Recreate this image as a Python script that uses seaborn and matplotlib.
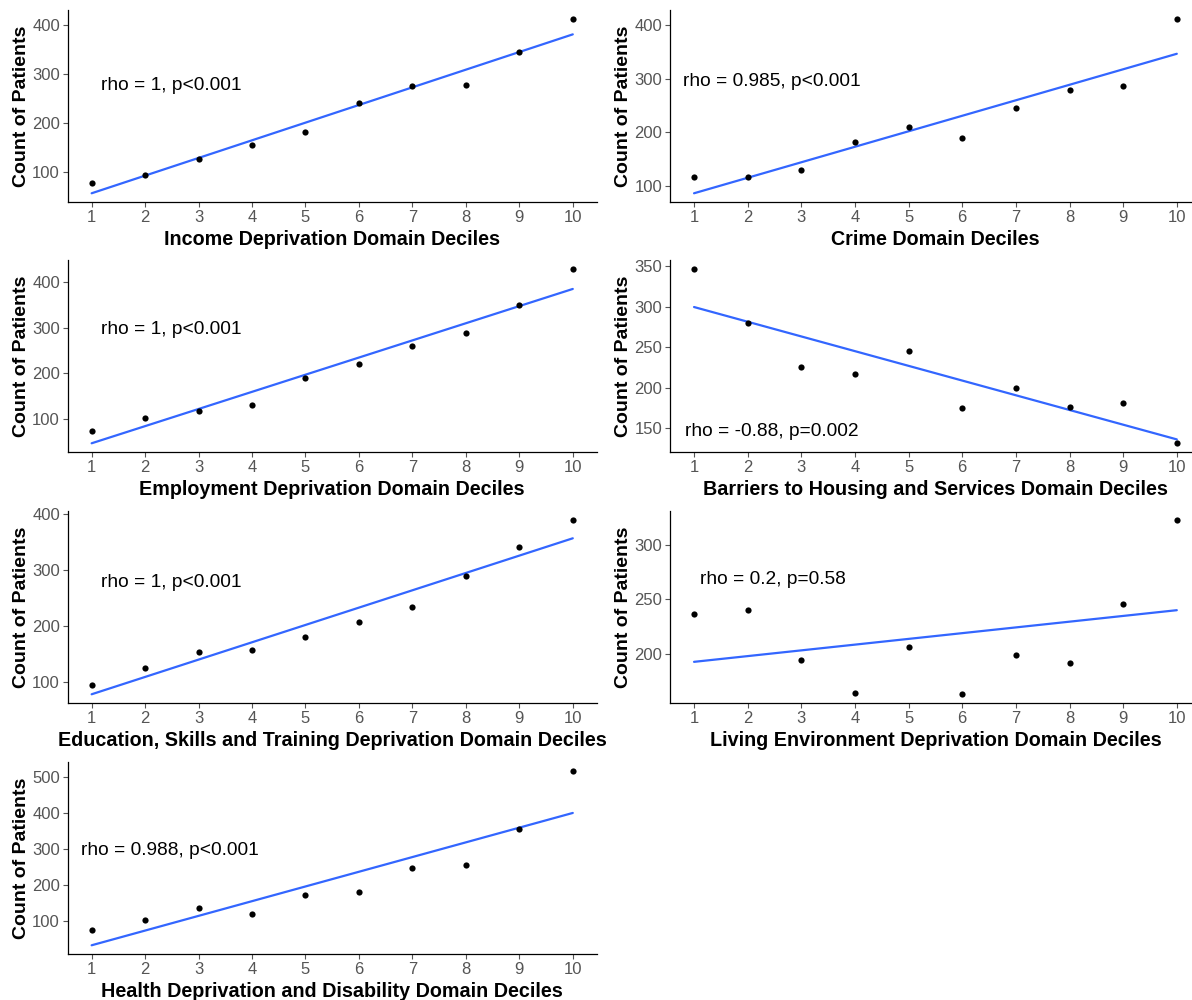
import pandas as pd
import matplotlib
matplotlib.use('Agg')
import matplotlib.pyplot as plt
from matplotlib.ticker import MultipleLocator
import seaborn as sns

# deciles and patient counts per domain
deciles = [1, 2, 3, 4, 5, 6, 7, 8, 9, 10]

income = [78, 93, 125, 155, 182, 241, 274, 276, 345, 412]
crime = [117, 117, 130, 182, 210, 189, 245, 278, 287, 411]
employment = [74, 103, 117, 131, 189, 221, 259, 288, 349, 429]
barriers = [347, 280, 225, 217, 245, 175, 200, 176, 181, 131]
education = [95, 124, 153, 157, 181, 207, 234, 289, 342, 390]
living = [237, 240, 194, 164, 206, 163, 199, 192, 246, 323]
health = [74, 103, 137, 120, 173, 179, 247, 256, 354, 516]

labels = [
    'Income Deprivation Domain Deciles',
    'Crime Domain Deciles',
    'Employment Deprivation Domain Deciles',
    'Barriers to Housing and Services Domain Deciles',
    'Education, Skills and Training Deprivation Domain Deciles',
    'Living Environment Deprivation Domain Deciles',
    'Health Deprivation and Disability Domain Deciles',
]
rho_text = [
    'rho = 1, p<0.001',
    'rho = 0.985, p<0.001',
    'rho = 1, p<0.001',
    'rho = -0.88, p=0.002',
    'rho = 1, p<0.001',
    'rho = 0.2, p=0.58',
    'rho = 0.988, p<0.001',
]
series = [income, crime, employment, barriers, education, living, health]

# text position (left edge x, centre y) in data units
text_pos = [(1.18, 275), (0.80, 295), (1.18, 296), (0.84, 146),
            (1.18, 277), (1.12, 268), (0.81, 294)]
ystep = [100, 100, 100, 50, 100, 50, 100]

sns.set_theme(style='white')
plt.rcParams['font.family'] = ['Liberation Sans', 'DejaVu Sans']

fig = plt.figure(figsize=(11.92, 10), dpi=100)

lefts = [0.0567, 0.562]
bottoms = [0.798, 0.548, 0.297, 0.046]
width = [0.444, 0.4455]
height = 0.192

for k, (vals, lab, txt) in enumerate(zip(series, labels, rho_text)):
    row, col = divmod(k, 2)
    ax = fig.add_axes([lefts[col], bottoms[row], width[col], height])
    df = pd.DataFrame({'decile': deciles, 'count': vals})
    sns.regplot(data=df, x='decile', y='count', ax=ax, ci=None, truncate=True,
                scatter_kws={'s': 20, 'color': 'black', 'alpha': 1, 'linewidths': 0, 'zorder': 3},
                line_kws={'color': '#3366FF', 'lw': 1.6, 'zorder': 2})
    ax.margins(x=0.05, y=0.05)
    ax.set_xticks(deciles)
    ax.yaxis.set_major_locator(MultipleLocator(ystep[k]))
    ax.set_xlabel(lab, fontsize=14.2, fontweight='bold', color='black', labelpad=4)
    ax.set_ylabel('Count of Patients', fontsize=14, fontweight='bold', color='black', labelpad=1.5)
    ax.tick_params(axis='both', labelsize=12, colors='#555555', length=3.5, width=0.8,
                   left=True, bottom=True, pad=2)
    for s in ['top', 'right']:
        ax.spines[s].set_visible(False)
    for s in ['left', 'bottom']:
        ax.spines[s].set_color('black')
        ax.spines[s].set_linewidth(0.9)
    tx, ty = text_pos[k]
    ax.text(tx, ty, txt, ha='left', va='center', fontsize=13.8, color='black')

fig.savefig('out.png', dpi=100)
